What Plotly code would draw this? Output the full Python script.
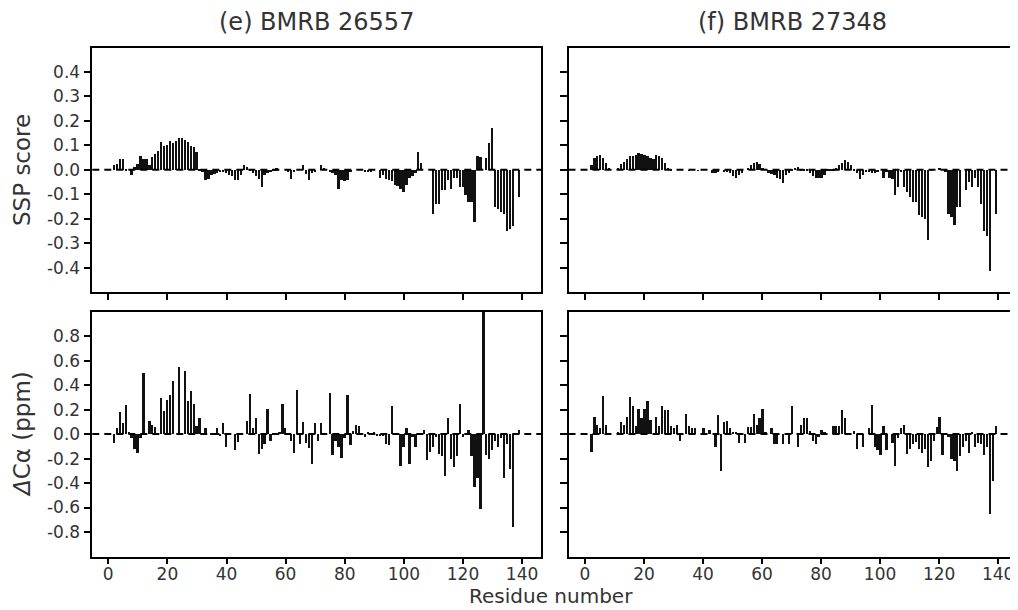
import plotly.graph_objects as go

residues = list(range(1, 141))

ssp_26557 = [
    0, 0.02, 0.027, 0.048, 0.045, 0.003, 0, -0.02, 0.012, 0.025,
    0.06, 0.045, 0.048, 0.02, 0.055, 0.065, 0.08, 0.115, 0.098, 0.105,
    0.12, 0.11, 0.12, 0.13, 0.13, 0.125, 0.115, 0.1, 0.095, 0.075,
    0.005, -0.005, -0.038, -0.035, -0.02, -0.015, -0.01, -0.005, -0.005, -0.01,
    -0.02, -0.025, -0.04, -0.04, -0.02, 0.02, 0.015, 0.005, -0.01, -0.025,
    -0.035, -0.068, -0.02, -0.01, -0.005, 0.005, 0.008, 0, 0, 0,
    -0.005, -0.035, -0.005, 0, 0, 0.02, -0.015, -0.04, -0.01, -0.005,
    0, 0.02, 0.01, 0, -0.005, -0.01, -0.02, -0.075, -0.04, -0.045,
    -0.04, -0.005, 0, 0, 0, 0, -0.005, -0.005, -0.005, 0,
    0, -0.03, -0.02, -0.035, -0.04, -0.045, -0.06, -0.065, -0.075, -0.09,
    -0.06, -0.03, -0.025, -0.01, 0.075, 0.03, 0, 0, 0, -0.18,
    -0.14, -0.14, -0.08, -0.08, -0.04, -0.075, -0.03, -0.03, -0.07, -0.07,
    -0.1, -0.13, -0.13, -0.21, 0.06, 0.055, 0, 0.05, 0.11, 0.173,
    -0.15, -0.16, -0.17, -0.18, -0.25, -0.24, -0.23, 0, -0.11, 0,
]

ssp_27348 = [
    0, 0.02, 0.05, 0.06, 0.062, 0.05, 0.03, 0.01, 0, 0,
    0.01, 0.025, 0.035, 0.045, 0.057, 0.06, 0.064, 0.07, 0.068, 0.062,
    0.058, 0.05, 0.045, 0.064, 0.06, 0.05, 0.03, 0.01, 0.003, 0,
    0, 0, 0, 0, -0.002, 0, 0, -0.002, 0, 0,
    0, 0, -0.01, -0.012, -0.008, 0, -0.005, -0.008, -0.01, -0.025,
    -0.03, -0.02, -0.01, 0, 0.01, 0.02, 0.03, 0.035, 0.025, 0.01,
    0, -0.01, -0.015, -0.02, -0.03, -0.035, -0.052, -0.02, -0.01, 0.005,
    0.01, 0.012, 0.005, 0.005, 0.003, -0.01, -0.025, -0.03, -0.032, -0.03,
    -0.02, 0.003, 0.005, 0.005, 0.01, 0.02, 0.03, 0.042, 0.035, 0.02,
    0.005, -0.01, -0.035, -0.02, -0.005, -0.008, -0.01, -0.01, -0.005, 0,
    -0.03, -0.005, -0.03, -0.035, -0.1, -0.068, -0.005, -0.07, -0.09, -0.11,
    -0.13, -0.13, -0.185, -0.19, -0.2, -0.287, 0.005, 0, 0, 0.01,
    0, -0.005, -0.18, -0.19, -0.225, -0.15, -0.15, 0, -0.08, -0.05,
    -0.07, -0.03, -0.07, -0.14, -0.25, -0.27, -0.41, 0, -0.18, 0,
]

dca_26557 = [
    0, -0.07, 0.05, 0.18, 0.09, 0.24, 0.02, -0.03, -0.12, -0.15,
    -0.03, 0.5, 0, 0.11, 0.08, 0.06, 0, 0.3, 0.19, 0.28,
    0.32, 0.44, 0, 0.55, 0, 0.52, 0.27, 0.355, 0.25, 0.07,
    0.13, 0, 0.05, 0, 0.01, 0.01, 0.05, -0.01, 0.09, -0.1,
    0, 0, -0.13, -0.06, 0, 0, 0.11, 0.33, 0.05, 0.13,
    -0.16, -0.12, -0.08, 0.21, -0.05, 0.01, 0.01, 0.02, 0.245, 0.05,
    0, -0.05, -0.15, 0.36, -0.08, 0.1, -0.07, -0.11, -0.245, 0.09,
    -0.05, 0.09, 0, 0, 0.34, -0.17, -0.05, -0.1, -0.19, -0.03,
    0.32, -0.09, 0.03, 0.08, 0.07, 0.01, -0.02, 0.02, 0.01, 0.02,
    -0.01, -0.01, -0.01, -0.08, -0.09, 0.23, 0.01, 0, -0.26, -0.1,
    0.05, -0.24, -0.02, -0.1, 0.01, 0.01, 0.04, -0.21, -0.14, -0.1,
    -0.02, -0.16, -0.18, -0.336, 0.13, -0.2, -0.268, -0.18, 0.25, -0.02,
    0, 0.04, -0.18, -0.43, -0.36, -0.61, 1.0, -0.17, -0.2, -0.13,
    -0.05, -0.1, -0.03, -0.36, -0.08, -0.28, -0.76, 0, 0.04, 0,
]

dca_27348 = [
    0, -0.145, 0.142, 0.08, 0.05, 0.31, 0.08, 0, 0, 0,
    0.02, 0.1, 0.08, 0.14, 0.306, 0.235, 0.07, 0.21, 0.137, 0.21,
    0.27, 0.12, 0, 0.14, 0.07, 0.23, 0.2, 0.2, 0.07, 0.05,
    0.08, -0.05, 0, 0.17, 0.07, 0.05, 0.05, 0, 0, 0.05,
    0, 0.04, 0, -0.1, 0.16, -0.295, 0.1, 0.11, 0.05, 0.02,
    0.02, -0.07, 0, -0.07, 0.06, 0.06, 0.164, 0.08, 0.13, 0.21,
    0.02, 0, 0.05, -0.08, -0.08, 0, -0.08, 0, -0.08, 0.235,
    0, -0.1, 0.08, 0.137, 0.13, 0.03, -0.05, -0.08, -0.02, 0.04,
    0.02, 0, 0, 0.07, 0.07, 0.07, 0.2, 0.13, 0, 0,
    0.03, -0.12, 0, -0.1, 0, 0.05, 0.24, -0.1, -0.13, -0.17,
    0.07, -0.13, 0, -0.07, -0.26, -0.03, 0.05, 0.08, -0.16, -0.12,
    -0.08, -0.06, -0.12, -0.15, -0.12, -0.27, -0.22, -0.05, 0.06, 0.14,
    -0.17, 0, -0.02, -0.2, -0.22, -0.295, -0.18, -0.1, -0.05, -0.15,
    0.02, -0.1, -0.07, -0.08, -0.17, -0.1, -0.65, -0.377, 0.07, 0,
]

panel_titles = ["(e) BMRB 26557", "(f) BMRB 27348"]
x_title = "Residue number"
y_titles = ["SSP score", "<i>Δ</i>Cα (ppm)"]

x_tickvals = [0, 20, 40, 60, 80, 100, 120, 140]
x_ticktext = ["0", "20", "40", "60", "80", "100", "120", "140"]
ssp_tickvals = [-0.4, -0.3, -0.2, -0.1, 0.0, 0.1, 0.2, 0.3, 0.4]
ssp_ticktext = ["-0.4", "-0.3", "-0.2", "-0.1", "0.0", "0.1", "0.2", "0.3", "0.4"]
dca_tickvals = [-0.8, -0.6, -0.4, -0.2, 0.0, 0.2, 0.4, 0.6, 0.8]
dca_ticktext = ["-0.8", "-0.6", "-0.4", "-0.2", "0.0", "0.2", "0.4", "0.6", "0.8"]

# The page adds an 8px body margin; lay out in window pixels minus that offset.
OFF = 8
W, H = 1018 - OFF, 610 - OFF
FONT = "DejaVu Sans"
TXT = "#333333"


def px(x):
    return (x - OFF) / W


def py(y):
    return 1 - (y - OFF) / H


left_dom = [px(92.3), px(541.0)]
right_dom = [px(568.5), min(1.0, px(1017.0))]
top_dom = [py(292.0), py(47.5)]
bot_dom = [py(556.5), py(311.7)]

fig = go.Figure()

panels = [
    ("x", "y", ssp_26557),
    ("x2", "y2", ssp_27348),
    ("x3", "y3", dca_26557),
    ("x4", "y4", dca_27348),
]
for xa, ya, vals in panels:
    fig.add_trace(go.Bar(
        x=residues, y=vals, xaxis=xa, yaxis=ya,
        width=0.78, marker=dict(color="#111111", line=dict(width=0)),
        showlegend=False, hoverinfo="skip",
    ))

common_x = dict(
    showline=True, linecolor="black", linewidth=1.5, mirror=True,
    ticks="outside", ticklen=6, tickwidth=1.5, tickcolor="black",
    tickvals=x_tickvals, ticktext=x_ticktext,
    showgrid=False, zeroline=False, ticklabelstandoff=-5,
    tickfont=dict(family=FONT, size=17, color=TXT),
)
common_y = dict(
    showline=True, linecolor="black", linewidth=1.5, mirror=True,
    ticks="outside", ticklen=7, tickwidth=1.5, tickcolor="black",
    showgrid=False, zeroline=False,
    tickfont=dict(family=FONT, size=17, color=TXT),
)

fig.update_layout(
    width=W, height=H, autosize=False,
    margin=dict(l=0, r=0, t=0, b=0),
    paper_bgcolor="white", plot_bgcolor="white",
    bargap=0,
    xaxis=dict(common_x, domain=left_dom, range=[-5.4, 146.4], anchor="y", showticklabels=False),
    xaxis2=dict(common_x, domain=right_dom, range=[-5.6, 146.4], anchor="y2", showticklabels=False),
    xaxis3=dict(common_x, domain=left_dom, range=[-5.4, 146.4], anchor="y3"),
    xaxis4=dict(common_x, domain=right_dom, range=[-5.6, 146.4], anchor="y4"),
    yaxis=dict(common_y, domain=top_dom, range=[-0.5, 0.5], anchor="x",
               tickvals=ssp_tickvals, ticktext=ssp_ticktext),
    yaxis2=dict(common_y, domain=top_dom, range=[-0.5, 0.5], anchor="x2",
                tickvals=ssp_tickvals, ticktext=ssp_ticktext, showticklabels=False),
    yaxis3=dict(common_y, domain=bot_dom, range=[-1.0, 1.0], anchor="x3",
                tickvals=dca_tickvals, ticktext=dca_ticktext),
    yaxis4=dict(common_y, domain=bot_dom, range=[-1.0, 1.0], anchor="x4",
                tickvals=dca_tickvals, ticktext=dca_ticktext, showticklabels=False),
)

# dashed zero lines
for xa, ya in [("x", "y"), ("x2", "y2"), ("x3", "y3"), ("x4", "y4")]:
    fig.add_shape(type="line", xref=f"{xa} domain", yref=ya,
                  x0=0, x1=1, y0=0, y1=0,
                  line=dict(color="black", width=2, dash="7px,5px"))

title_x = [(px(92.3) + px(541.0)) / 2, (px(568.5) + px(1017.0)) / 2]
ann = []
for title, tx in zip(panel_titles, title_x):
    ann.append(dict(text=title, x=tx, y=py(22), xref="paper", yref="paper",
                    showarrow=False, xanchor="center", yanchor="middle",
                    font=dict(family=FONT, size=24, color=TXT)))
ann.append(dict(text=x_title, x=px(551), y=py(609),
                xref="paper", yref="paper", showarrow=False,
                xanchor="center", yanchor="bottom", borderpad=0,
                font=dict(family=FONT, size=20, color=TXT)))
ann.append(dict(text=y_titles[0], x=px(22), y=py(170), textangle=-90,
                xref="paper", yref="paper", showarrow=False,
                xanchor="center", yanchor="middle",
                font=dict(family=FONT, size=23, color=TXT)))
ann.append(dict(text=y_titles[1], x=px(22), y=py(434), textangle=-90,
                xref="paper", yref="paper", showarrow=False,
                xanchor="center", yanchor="middle",
                font=dict(family=FONT, size=23, color=TXT)))
fig.update_layout(annotations=ann)

fig.write_html("out.html")
